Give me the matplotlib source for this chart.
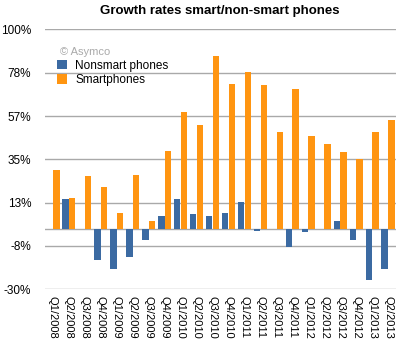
import matplotlib.pyplot as plt
import numpy as np

plt.rcParams['font.family'] = ['Liberation Sans', 'DejaVu Sans']

quarters = ['Q1/2008', 'Q2/2008', 'Q3/2008', 'Q4/2008',
            'Q1/2009', 'Q2/2009', 'Q3/2009', 'Q4/2009',
            'Q1/2010', 'Q2/2010', 'Q3/2010', 'Q4/2010',
            'Q1/2011', 'Q2/2011', 'Q3/2011', 'Q4/2011',
            'Q1/2012', 'Q2/2012', 'Q3/2012', 'Q4/2012',
            'Q1/2013', 'Q2/2013']
nonsmart = [np.nan, 15.1, np.nan, -15.2,
            -19.7, -13.7, -5.3, 6.8,
            15.1, 7.8, 6.6, 8.3,
            13.7, -0.7, np.nan, -8.7,
            -1.2, np.nan, 4.2, -5.3,
            -25.2, -19.7]
smart = [29.7, 15.8, 26.8, 21.3,
         8.3, 27.3, 4.2, 39.2,
         58.8, 52.3, 86.8, 72.8,
         78.6, 72.1, 48.6, 70.1,
         46.6, 42.6, 38.6, 35.1,
         48.6, 54.6]
ytick_vals = [-30, -8.33, 13.33, 35, 56.67, 78.33, 100]
ytick_labels = ['-30%', '-8%', '13%', '35%', '57%', '78%', '100%']

blue = '#3b6aa2'
orange = '#ff9511'
grid = '#a9a9a9'

fig = plt.figure(figsize=(4.07, 3.47), dpi=100)
ax = fig.add_axes([0.1106, 0.1663, 0.8624, 0.7487])

x = np.arange(len(quarters))
w = 0.4
ax.bar(x - 0.21, nonsmart, w, color=blue, zorder=3, label='Nonsmart phones')
ax.bar(x + 0.21, smart, w, color=orange, zorder=3, label='Smartphones')

for v in ytick_vals:
    ax.axhline(v, color=grid, lw=1.0, zorder=1)
ax.axhline(0, color=grid, lw=1.0, zorder=1)

ax.set_xlim(-0.5, len(quarters) - 0.5)
ax.set_ylim(-30, 100)
ax.set_yticks(ytick_vals)
ax.set_yticklabels(ytick_labels, fontsize=8.5)
ax.set_xticks(x)
ax.set_xticklabels(quarters, rotation=-90, fontsize=8, va='top', ha='center')
ax.tick_params(length=0, pad=10)
ax.tick_params(axis='x', pad=5)
for s in ax.spines.values():
    s.set_visible(False)

fig.text(0.54, 0.968, 'Growth rates smart/non-smart phones', ha='center',
         va='center', fontsize=9.5, fontweight='bold')
fig.text(0.147, 0.85, '\u00a9 Asymco', color='#aaaaaa', fontsize=8, va='center')
ax.legend(loc='upper left', bbox_to_anchor=(0.01, 0.915), frameon=False,
          fontsize=8.5, handlelength=0.85, handleheight=0.85, handletextpad=0.7,
          labelspacing=0.2, borderpad=0.2)

fig.savefig('out.png', dpi=100)
